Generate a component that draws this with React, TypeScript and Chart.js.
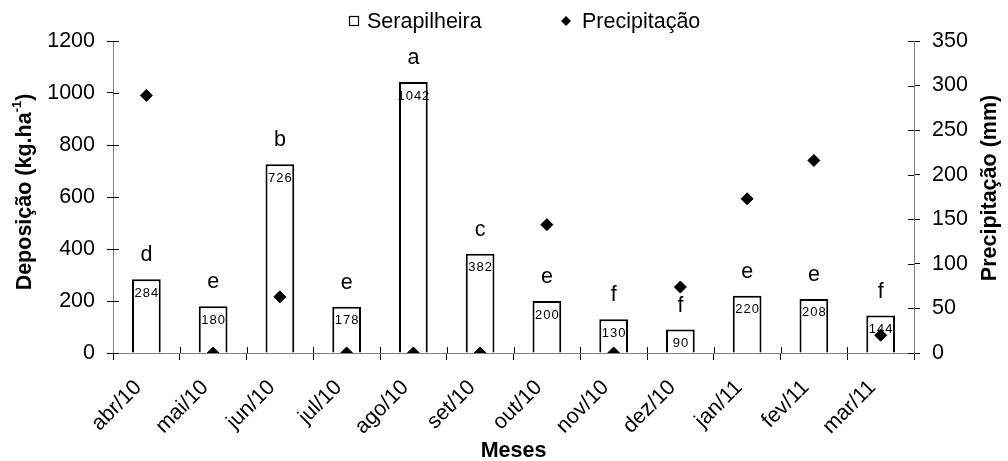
import { useEffect, useRef } from 'react';
import { Chart, registerables } from 'chart.js';

Chart.register(...registerables);

const months = ['abr/10', 'mai/10', 'jun/10', 'jul/10', 'ago/10', 'set/10', 'out/10', 'nov/10', 'dez/10', 'jan/11', 'fev/11', 'mar/11'];
const serapilheira = [284, 180, 726, 178, 1042, 382, 200, 130, 90, 220, 208, 144];
const letters = ['d', 'e', 'b', 'e', 'a', 'c', 'e', 'f', 'f', 'e', 'e', 'f'];
const precipitacao = [289, 0, 63, 0, 0, 0, 144, 0, 74, 173, 216, 20];

const FONT = '"Liberation Sans", Arial, sans-serif';

const decorPlugin = {
  id: 'decor',
  afterDraw(chart: any) {
    const ctx: CanvasRenderingContext2D = chart.ctx;
    const area = chart.chartArea;
    ctx.save();
    ctx.strokeStyle = '#000';
    ctx.lineWidth = 1;
    // inner halves of tick marks
    const y = chart.scales.y;
    const y1 = chart.scales.y1;
    const x = chart.scales.x;
    ctx.beginPath();
    y.ticks.forEach((_t: any, i: number) => {
      const p = Math.round(y.getPixelForTick(i)) + 0.5;
      ctx.moveTo(area.left, p);
      ctx.lineTo(area.left + 6, p);
    });
    y1.ticks.forEach((_t: any, i: number) => {
      const p = Math.round(y1.getPixelForTick(i)) + 0.5;
      ctx.moveTo(area.right, p);
      ctx.lineTo(area.right - 6, p);
    });
    const n = months.length;
    const w = (area.right - area.left) / n;
    for (let i = 1; i < n; i++) {
      const p = Math.round(x.getPixelForValue(i) - w / 2) + 0.5;
      ctx.moveTo(p, area.bottom);
      ctx.lineTo(p, area.bottom - 6);
    }
    ctx.stroke();

    // bar value labels & letters
    const meta = chart.getDatasetMeta(0);
    meta.data.forEach((bar: any, i: number) => {
      ctx.fillStyle = '#000';
      ctx.textAlign = 'center';
      ctx.textBaseline = 'middle';
      ctx.font = `13px ${FONT}`;
      (ctx as any).letterSpacing = '1px';
      ctx.fillText(String(serapilheira[i]), bar.x + 0.5, bar.y + 14);
      (ctx as any).letterSpacing = '0px';
      ctx.textBaseline = 'alphabetic';
      ctx.font = `21.5px ${FONT}`;
      ctx.fillText(letters[i], bar.x, bar.y - 18);
    });

    // axis titles
    ctx.fillStyle = '#000';
    ctx.font = `bold 21.5px ${FONT}`;
    ctx.textAlign = 'center';
    ctx.textBaseline = 'alphabetic';
    ctx.fillText('Meses', (area.left + area.right) / 2, 457);

    // left title with superscript
    ctx.save();
    ctx.translate(23, 192);
    ctx.rotate(-Math.PI / 2);
    ctx.textAlign = 'left';
    const m1 = 'Deposição (kg.ha';
    const sup = '-1';
    const m2 = ')';
    ctx.font = `bold 21.5px ${FONT}`;
    const w1 = ctx.measureText(m1).width;
    const w3 = ctx.measureText(m2).width;
    ctx.font = `bold 13px ${FONT}`;
    const w2 = ctx.measureText(sup).width;
    let sx = -(w1 + w2 + w3) / 2;
    ctx.font = `bold 21.5px ${FONT}`;
    ctx.fillText(m1, sx, 8);
    sx += w1;
    ctx.font = `bold 13px ${FONT}`;
    ctx.fillText(sup, sx, -2);
    sx += w2;
    ctx.font = `bold 21.5px ${FONT}`;
    ctx.fillText(m2, sx, 8);
    ctx.restore();

    // right title
    ctx.save();
    ctx.translate(988, 188);
    ctx.rotate(-Math.PI / 2);
    ctx.textAlign = 'center';
    ctx.font = `bold 21.5px ${FONT}`;
    ctx.fillText('Precipitação (mm)', 0, 8);
    ctx.restore();

    // legend
    ctx.lineWidth = 1.2;
    ctx.strokeStyle = '#000';
    ctx.strokeRect(349.5, 16.5, 9, 9);
    ctx.font = `21.5px ${FONT}`;
    ctx.textAlign = 'left';
    ctx.textBaseline = 'alphabetic';
    ctx.fillText('Serapilheira', 367, 28);
    ctx.beginPath();
    ctx.moveTo(566, 16);
    ctx.lineTo(571, 21);
    ctx.lineTo(566, 26);
    ctx.lineTo(561, 21);
    ctx.closePath();
    ctx.fill();
    ctx.fillText('Precipitação', 582, 28);
    ctx.restore();
  },
};

export default function App() {
  const ref = useRef<HTMLCanvasElement | null>(null);
  useEffect(() => {
    if (!ref.current) return;
    const tickFont = { family: FONT, size: 21.5 };
    const plain = (v: any) => String(v);
    const chart = new Chart(ref.current, {
      type: 'bar',
      data: {
        labels: months,
        datasets: [
          {
            type: 'bar',
            label: 'Serapilheira',
            data: serapilheira,
            yAxisID: 'y',
            backgroundColor: '#ffffff',
            borderColor: '#000000',
            borderWidth: 2,
            barPercentage: 0.43,
            categoryPercentage: 1,
            order: 2,
          },
          {
            type: 'line',
            label: 'Precipitação',
            data: precipitacao,
            yAxisID: 'y1',
            showLine: false,
            pointStyle: 'rectRot',
            pointRadius: 6,
            pointBackgroundColor: '#000',
            pointBorderColor: '#000',
            pointBorderWidth: 1,
            order: 1,
          },
        ] as any,
      },
      options: {
        animation: false,
        responsive: false,
        maintainAspectRatio: false,
        layout: { padding: { top: 41, left: 0, right: 0, bottom: 0 } },
        plugins: {
          legend: { display: false },
          tooltip: { enabled: false },
        },
        scales: {
          x: {
            offset: true,
            grid: { offset: true, drawOnChartArea: false, drawTicks: true, tickLength: 7, color: '#000' },
            border: { color: '#808080', width: 1 },
            ticks: { font: tickFont, color: '#000', maxRotation: 45, minRotation: 45, padding: 15, labelOffset: -8, autoSkip: false },
            afterFit: (s: any) => { s.height = 108; },
          },
          y: {
            position: 'left',
            min: 0,
            max: 1200,
            ticks: { stepSize: 200, font: tickFont, color: '#000', padding: 12, callback: plain },
            grid: { drawOnChartArea: false, tickLength: 6, color: '#000' },
            border: { color: '#808080', width: 1 },
            afterFit: (s: any) => { s.width = 113; },
          },
          y1: {
            position: 'right',
            min: 0,
            max: 350,
            ticks: { stepSize: 50, font: tickFont, color: '#000', padding: 12, callback: plain },
            grid: { drawOnChartArea: false, tickLength: 6, color: '#000' },
            border: { color: '#808080', width: 1 },
            afterFit: (s: any) => { s.width = 94; },
          },
        },
      } as any,
      plugins: [decorPlugin],
    });
    return () => chart.destroy();
  }, []);
  return (
    <div style={{ position: 'fixed', left: 0, top: 0, width: 1008, height: 461, background: '#fff' }}>
      <canvas ref={ref} width={1008} height={461} style={{ width: 1008, height: 461 }} />
    </div>
  );
}
